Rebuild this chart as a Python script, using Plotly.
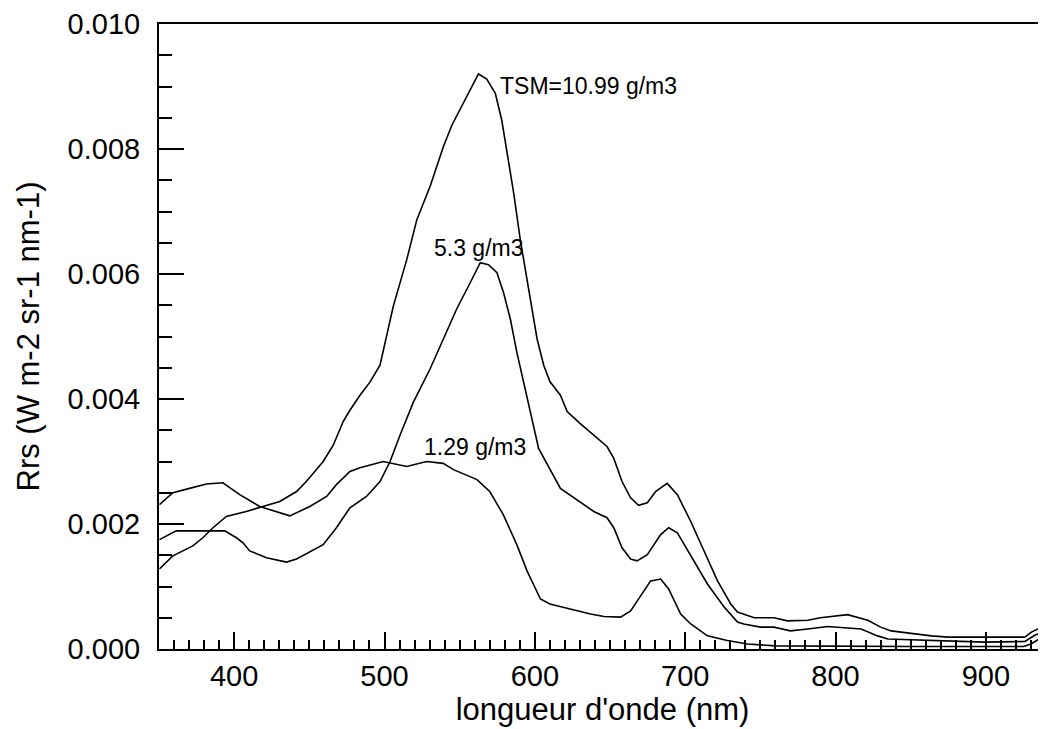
import plotly.graph_objects as go

# ---- data ----
wl_1099 = [350.3, 359.2, 372.5, 379.2, 385.9, 394.8, 408, 419.2, 430.3, 441.5, 448, 459.2, 465.9,
           472.5, 477, 483.7, 490.3, 497, 505.9, 514.8, 521.5, 530.3, 539.2, 544.8, 552.5, 562.5,
           568, 573.7, 578, 581.5, 585.9, 590.3, 594.8, 601.5, 605.9, 610, 617, 621.5, 630, 639.2,
           648, 652.5, 658, 663.7, 669, 674.8, 680.3, 688, 694.8, 703.7, 712.5, 721.5, 730.3,
           734.8, 745.9, 754.8, 759, 768, 781.5, 790, 808, 821.5, 830, 837, 852.5, 863.7, 874.8,
           925.9, 930.3, 937, 941]
rrs_1099 = [0.00128, 0.00149, 0.00165, 0.00178, 0.00194, 0.00212, 0.0022, 0.00228, 0.00236, 0.00252,
            0.00268, 0.0030, 0.00326, 0.00364, 0.00382, 0.00406, 0.00427, 0.00454, 0.00549, 0.00623,
            0.00687, 0.0074, 0.00804, 0.00838, 0.00873, 0.0092, 0.00912, 0.00889, 0.00846, 0.00793,
            0.0073, 0.00655, 0.00592, 0.00496, 0.00454, 0.00428, 0.00406, 0.0038, 0.00361, 0.00342,
            0.00324, 0.00305, 0.00268, 0.00242, 0.0023, 0.00234, 0.00252, 0.00265, 0.00247, 0.00204,
            0.00157, 0.00109, 0.00072, 0.00059, 0.0005, 0.0005, 0.0005, 0.00045, 0.00046, 0.0005,
            0.00055, 0.00046, 0.00035, 0.00029, 0.00024, 0.00021, 0.00019, 0.00019, 0.00027, 0.00035,
            0.00036]

wl_53 = [350.3, 361.5, 382.5, 393.7, 401.5, 405.9, 410.3, 421.5, 434.8, 441.5, 459.2, 468, 477, 488,
         497, 503.7, 510.3, 519.2, 530.3, 539.2, 548, 557, 563.7, 569.2, 574.8, 579.2, 583.7, 588,
         594.8, 602.5, 617, 630.3, 639.2, 648, 652.5, 658, 663.7, 668, 674.8, 683.7, 689, 694.8,
         706, 714.8, 726, 734.8, 739, 750, 759, 770, 781.5, 794.8, 817, 828, 834.8, 866, 899, 926,
         932.5, 941]
rrs_53 = [0.00175, 0.00189, 0.00189, 0.00189, 0.00178, 0.0017, 0.00157, 0.00146, 0.00139, 0.00144,
          0.00167, 0.00194, 0.00226, 0.00244, 0.00268, 0.0030, 0.00342, 0.00395, 0.00448, 0.00496,
          0.00544, 0.00586, 0.00618, 0.00615, 0.00602, 0.0057, 0.00528, 0.00475, 0.00401, 0.00321,
          0.00257, 0.00234, 0.0022, 0.0021, 0.00194, 0.00162, 0.00144, 0.00141, 0.00151, 0.00183,
          0.00194, 0.00186, 0.00141, 0.00104, 0.00067, 0.00043, 0.0004, 0.00035, 0.00035, 0.00029,
          0.00032, 0.00036, 0.00032, 0.00021, 0.00016, 0.000135, 0.00011, 0.00012, 0.00022, 0.0003]

wl_129 = [350.3, 359.2, 370.3, 381.5, 392.5, 403.7, 417, 428, 437, 450.3, 461.5, 468, 477, 483.7,
          499.2, 514.8, 528, 539, 545.9, 561.5, 570, 579, 588, 594.8, 603.7, 610, 623.7, 637, 646,
          657, 663.7, 672.5, 677, 683.7, 689, 697, 703.7, 714.8, 728, 741.5, 760, 850, 925, 930, 941]
rrs_129 = [0.00231, 0.0025, 0.00257, 0.00264, 0.00266, 0.00247, 0.00228, 0.0022, 0.00213, 0.00228,
           0.00244, 0.00263, 0.00284, 0.0029, 0.0030, 0.00292, 0.0030, 0.00297, 0.00287, 0.00271,
           0.00252, 0.00215, 0.00167, 0.00125, 0.0008, 0.00072, 0.00064, 0.00056, 0.00052, 0.00051,
           0.00061, 0.00093, 0.00109, 0.00112, 0.00096, 0.00056, 0.0004, 0.00021, 0.000135, 0.00008,
           0.00005, 0.00004, 0.00004, 0.00008, 0.00024]

labels = ["TSM=10.99 g/m3", "5.3 g/m3", "1.29 g/m3"]
label_x = [575.5, 531.6, 525.0]
label_y = [0.00901, 0.00642, 0.00324]

x_range = [350, 940]
y_range = [0, 0.010]

FONT = "Liberation Sans, Arial, Helvetica, sans-serif"

fig = go.Figure()
for wl, rr in [(wl_1099, rrs_1099), (wl_53, rrs_53), (wl_129, rrs_129)]:
    fig.add_trace(go.Scatter(x=wl, y=rr, mode="lines",
                             line=dict(color="black", width=1.6),
                             showlegend=False, hoverinfo="skip"))

for t, x, y in zip(labels, label_x, label_y):
    fig.add_annotation(x=x, y=y, text=t, showarrow=False, xanchor="left", yanchor="middle",
                       font=dict(family=FONT, size=23, color="black"))

# page body has an 8px margin: size the figure so the plot frame lands where the reference has it
fig.update_layout(
    width=1038, height=721, autosize=False,
    margin=dict(l=151, r=0, t=12, b=80),
    paper_bgcolor="white", plot_bgcolor="white",
    font=dict(family=FONT, color="black"),
)
fig.update_xaxes(
    range=x_range, showgrid=False, zeroline=False,
    showline=True, linecolor="black", linewidth=2, mirror=True,
    ticks="inside", ticklen=17, tickwidth=2, tickcolor="black",
    tick0=400, dtick=100,
    minor=dict(ticks="inside", ticklen=9, tickwidth=2, tickcolor="black", dtick=10, tick0=350),
    tickfont=dict(family=FONT, size=29, color="black"),
    ticklabelstandoff=0,
    title=dict(text="longueur d'onde (nm)", font=dict(family=FONT, size=31, color="black"), standoff=8),
)
fig.update_yaxes(
    range=y_range, showgrid=False, zeroline=False,
    showline=True, linecolor="black", linewidth=2, mirror=False,
    ticks="inside", ticklen=25, tickwidth=2, tickcolor="black",
    tick0=0, dtick=0.002, tickformat=".3f",
    minor=dict(ticks="inside", ticklen=13, tickwidth=2, tickcolor="black", dtick=0.0005),
    tickfont=dict(family=FONT, size=29, color="black"),
    ticklabelstandoff=11, ticklabeloverflow="allow",
    title=dict(text="Rrs (W m-2 sr-1 nm-1)", font=dict(family=FONT, size=31, color="black"), standoff=19),
)

fig.write_html("out.html")
